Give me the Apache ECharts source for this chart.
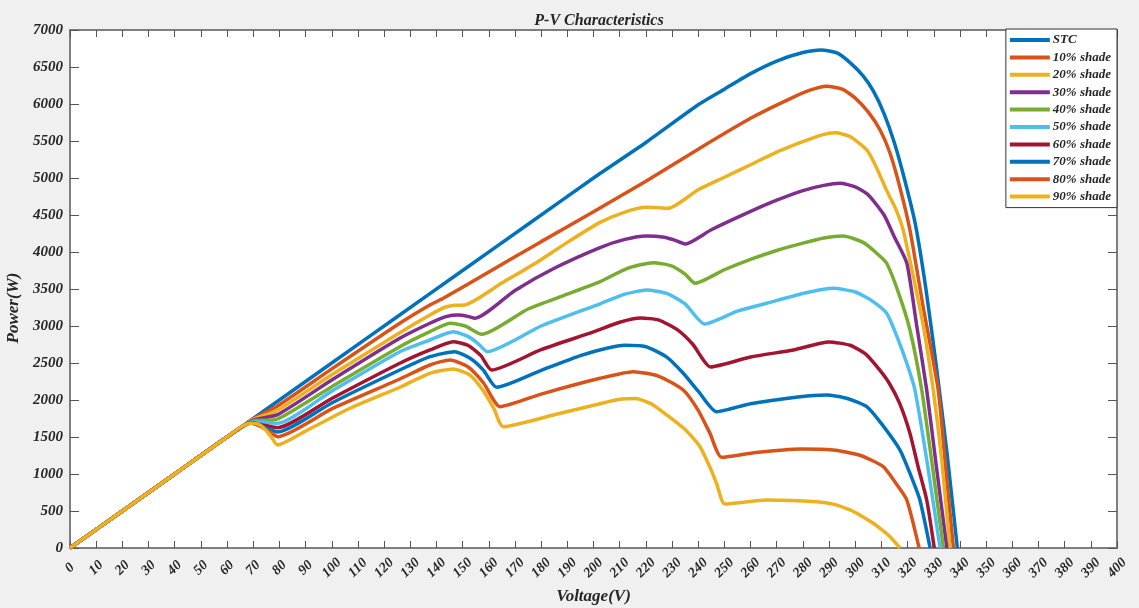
<!DOCTYPE html>
<html>
<head>
<meta charset="utf-8">
<script src="https://cdn.jsdelivr.net/npm/echarts@6/dist/echarts.min.js"></script>
<style>
  html, body { margin: 0; padding: 0; background: #f0f0f0; }
  #chart { width: 1139px; height: 608px; }
</style>
</head>
<body>
<div id="chart"></div>
<script>
// P-V curves of the PV string: [voltage (V), power (W)] pairs
const stc = [[0,0],[20,500],[40,1000],[60,1500],[80,2000],[100,2500],[125,3125],[150,3750],[175,4375],[200,5000],[220,5480],[240,5990],[250,6200],[260,6410],[270,6580],[280,6695],[287,6730],[293,6690],[298,6560],[303,6380],[307,6170],[311,5870],[315,5470],[319,4960],[323,4370],[327,3500],[331,2450],[335,1300],[339,0]];
const shade10 = [[0,0],[20,500],[40,1000],[60,1500],[70,1745],[79.3,1919],[100,2420],[126,3037],[137.5,3284],[142.6,3374],[160,3730],[180,4140],[200,4545],[219.7,4950],[240,5390],[260,5807],[275,6070],[283,6190],[289,6240],[295,6200],[300,6080],[305,5890],[309.5,5649],[313.3,5334],[317,4880],[320.9,4297],[326,3250],[331.7,2135],[334.5,1100],[337.5,0]];
const shade20 = [[0,0],[20,500],[40,1000],[60,1500],[70,1735],[79.3,1861],[100,2340],[126,2910],[137.5,3149],[143,3250],[147,3280],[150.9,3284],[165,3580],[177,3830],[190,4130],[202.5,4400],[212,4540],[220,4604],[225,4598],[228.6,4591],[240,4840],[250,5010],[259.8,5176],[270,5350],[280,5490],[287,5580],[292.5,5610],[298,5560],[304.4,5379],[308,5150],[312,4830],[315.5,4580],[318.3,4297],[322,3700],[326,3000],[329.8,2135],[333,1200],[336.2,0]];
const shade30 = [[0,0],[20,500],[40,1000],[60,1500],[70,1725],[79.3,1802],[100,2270],[126,2834],[137.5,3037],[144,3130],[148.4,3149],[152,3130],[154.7,3104],[170,3480],[185,3780],[202.5,4060],[212,4170],[220.3,4216],[227,4200],[231,4160],[235,4108],[245,4300],[259.8,4545],[270,4700],[280,4830],[288,4900],[294.2,4928],[300,4880],[305,4770],[311,4500],[315,4200],[319.7,3848],[323.5,3000],[327.3,2135],[331,1100],[335,0]];
const shade40 = [[0,0],[20,500],[40,1000],[60,1500],[70,1715],[79.3,1743],[100,2180],[126,2720],[137.5,2923],[145.2,3037],[151,3000],[157.3,2888],[175,3230],[190,3430],[202.5,3600],[213,3780],[222.9,3856],[230,3810],[235,3700],[238.8,3577],[250,3760],[260,3900],[270,4020],[280,4120],[288,4190],[295.4,4216],[303,4130],[308,3990],[312,3848],[316.5,3450],[320.9,2946],[325.4,2135],[329.5,1100],[333.7,0]];
const shade50 = [[0,0],[20,500],[40,1000],[60,1500],[70,1705],[75,1700],[79.3,1685],[100,2120],[126,2653],[137.5,2811],[146.4,2923],[152,2860],[156,2760],[159.4,2653],[180,3000],[202.5,3300],[212,3430],[220.3,3487],[228,3440],[235,3300],[242.4,3027],[255,3200],[266.2,3307],[280,3440],[291.6,3510],[300,3460],[306,3350],[312,3172],[316,2850],[319.7,2496],[322.8,2135],[327.5,1150],[332.4,0]];
const shade60 = [[0,0],[20,500],[40,1000],[60,1500],[69,1695],[74,1660],[79.3,1626],[100,2020],[126,2496],[137.5,2676],[146.4,2788],[152,2740],[157,2600],[161.1,2405],[180,2680],[200,2920],[210,3050],[218,3108],[225,3080],[232,2950],[238,2750],[244.8,2446],[260,2580],[276.3,2676],[290,2784],[298,2740],[304,2620],[309,2420],[313,2226],[317,1950],[320.9,1549],[324,1100],[327.3,649],[330.2,0]];
const shade70 = [[0,0],[20,500],[40,1000],[60,1500],[69,1690],[74,1640],[79.3,1568],[100,1960],[126,2405],[137.5,2585],[147,2653],[153,2560],[158,2400],[163,2171],[180,2400],[195,2600],[205,2700],[212,2740],[220,2720],[228,2580],[234.3,2361],[240,2120],[247,1842],[260,1950],[278.9,2045],[289,2068],[297,2020],[304.4,1910],[310,1680],[317.1,1324],[321,1000],[324.7,649],[328.6,0]];
const shade80 = [[0,0],[20,500],[40,1000],[60,1500],[69,1690],[73,1640],[77,1550],[79.3,1504],[100,1880],[126,2284],[137.5,2473],[145.2,2541],[152,2450],[158,2230],[164.3,1910],[180,2080],[202.5,2293],[215.2,2383],[225,2320],[234.3,2135],[240,1860],[244.5,1549],[249,1225],[262,1290],[278.9,1338],[291.6,1324],[302,1250],[310.7,1099],[316,850],[319.7,649],[324.4,0]];
const shade90 = [[0,0],[20,500],[40,1000],[60,1500],[65,1630],[68.8,1685],[72.6,1662],[76.4,1527],[79.3,1392],[90,1580],[107,1888],[126,2172],[137.5,2361],[146.4,2419],[153,2330],[158,2120],[162,1880],[165.5,1639],[185,1800],[202.5,1950],[210,2009],[216,2020],[222,1950],[228,1797],[235,1600],[240.7,1369],[245,1050],[247,874],[250.2,595],[266.2,649],[285.2,626],[292,590],[298,514],[302,440],[306.9,334],[310,250],[313.3,153],[317.1,0]];

const seriesNames = ['STC','10% shade','20% shade','30% shade','40% shade','50% shade','60% shade','70% shade','80% shade','90% shade'];
const seriesData = [stc, shade10, shade20, shade30, shade40, shade50, shade60, shade70, shade80, shade90];
const palette = ['#0072BD','#D95319','#EDB120','#7E2F8E','#77AC30','#4DBEEE','#A2142F','#0072BD','#D95319','#EDB120'];

const labelFont = { fontFamily: 'Liberation Serif', fontStyle: 'italic', fontWeight: 'bold', color: '#262626' };
const tickInside = { show: true, inside: true, length: 7, lineStyle: { color: '#555', width: 1 } };
const axisLine = { show: true, onZero: false, lineStyle: { color: '#777', width: 1.5 } };

const chart = echarts.init(document.getElementById('chart'), null, { renderer: 'canvas' });

chart.setOption({
  backgroundColor: '#f0f0f0',
  animation: false,
  color: palette,
  title: {
    text: 'P-V Characteristics',
    left: 594, textAlign: 'center', top: 8,
    textStyle: Object.assign({ fontSize: 16 }, labelFont)
  },
  legend: {
    orient: 'vertical',
    right: 22, top: 29,
    icon: 'rect',
    itemWidth: 40, itemHeight: 4, itemGap: 3.4,
    padding: [4, 6, 4, 4],
    backgroundColor: '#fff',
    borderColor: '#333', borderWidth: 1, borderRadius: 0,
    data: seriesNames,
    textStyle: Object.assign({ fontSize: 13, lineHeight: 14, padding: [0, 0, 0, -2] }, labelFont)
  },
  grid: {
    left: 70, right: 22, top: 30, bottom: 60,
    containLabel: false, outerBoundsMode: 'none',
    show: true, backgroundColor: '#fff', borderColor: '#777', borderWidth: 1.5
  },
  xAxis: [{
    type: 'value', min: 0, max: 400, interval: 10, position: 'bottom',
    name: 'Voltage(V)', nameLocation: 'middle', nameGap: 40,
    nameTextStyle: Object.assign({ fontSize: 17 }, labelFont),
    axisLine: axisLine, axisTick: tickInside, splitLine: { show: false },
    axisLabel: Object.assign({ rotate: 45, fontSize: 14, align: 'center', verticalAlign: 'middle', margin: 20, formatter: v => String(v) }, labelFont)
  }, {
    type: 'value', min: 0, max: 400, interval: 10, position: 'top',
    axisLine: axisLine, axisTick: tickInside, axisLabel: { show: false }, splitLine: { show: false }
  }],
  yAxis: [{
    type: 'value', min: 0, max: 7000, interval: 500, position: 'left',
    name: 'Power(W)', nameLocation: 'middle', nameGap: 42,
    nameTextStyle: Object.assign({ fontSize: 17, padding: [0, 38, 0, 0] }, labelFont),
    axisLine: axisLine, axisTick: Object.assign({}, tickInside, { length: 9 }), splitLine: { show: false },
    axisLabel: Object.assign({ fontSize: 15, margin: 7, formatter: v => String(v) }, labelFont)
  }, {
    type: 'value', min: 0, max: 7000, interval: 500, position: 'right',
    axisLine: axisLine, axisTick: Object.assign({}, tickInside, { length: 9 }), axisLabel: { show: false }, splitLine: { show: false }
  }],
  series: seriesData.map((d, i) => ({
    name: seriesNames[i],
    type: 'line',
    data: d,
    xAxisIndex: 0, yAxisIndex: 0,
    showSymbol: false,
    smooth: 0.2,
    lineStyle: { width: 3.5, color: palette[i] },
    itemStyle: { color: palette[i] }
  }))
});
</script>
</body>
</html>
